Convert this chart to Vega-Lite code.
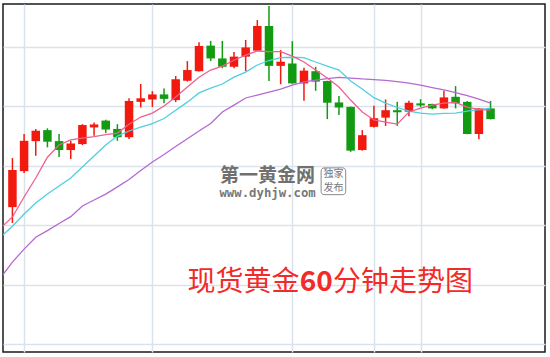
{
  "$schema": "https://vega.github.io/schema/vega-lite/v6.json",
  "width": 542,
  "height": 348,
  "autosize": {"type": "none"},
  "padding": {"left": 3, "top": 4, "right": 5, "bottom": 5},
  "background": "white",
  "config": {
    "view": {"stroke": "#1a1a1a", "strokeWidth": 1.5},
    "axis": {"labels": false, "ticks": false, "domain": false, "grid": true, "gridColor": "#dae3ec", "gridWidth": 1.5}
  },
  "datasets": {
    "candles": [
      {"i": 1, "open": 1255.61, "high": 1257.26, "low": 1255.08, "close": 1256.86},
      {"i": 2, "open": 1256.82, "high": 1258.07, "low": 1256.76, "close": 1257.84},
      {"i": 3, "open": 1257.83, "high": 1258.24, "low": 1257.34, "close": 1258.18},
      {"i": 4, "open": 1258.20, "high": 1258.26, "low": 1257.62, "close": 1257.81},
      {"i": 5, "open": 1257.83, "high": 1258.07, "low": 1257.30, "close": 1257.53},
      {"i": 6, "open": 1257.53, "high": 1257.84, "low": 1257.23, "close": 1257.75},
      {"i": 7, "open": 1257.73, "high": 1258.40, "low": 1257.70, "close": 1258.37},
      {"i": 8, "open": 1258.29, "high": 1258.46, "low": 1258.01, "close": 1258.39},
      {"i": 9, "open": 1258.52, "high": 1258.55, "low": 1258.10, "close": 1258.22},
      {"i": 10, "open": 1258.24, "high": 1258.40, "low": 1257.84, "close": 1257.96},
      {"i": 11, "open": 1257.96, "high": 1259.27, "low": 1257.90, "close": 1259.18},
      {"i": 12, "open": 1259.15, "high": 1259.75, "low": 1258.96, "close": 1259.27},
      {"i": 13, "open": 1259.23, "high": 1259.51, "low": 1258.98, "close": 1259.40},
      {"i": 14, "open": 1259.40, "high": 1259.60, "low": 1259.10, "close": 1259.25},
      {"i": 15, "open": 1259.21, "high": 1260.02, "low": 1259.14, "close": 1259.91},
      {"i": 16, "open": 1259.86, "high": 1260.52, "low": 1259.83, "close": 1260.22},
      {"i": 17, "open": 1260.18, "high": 1261.15, "low": 1260.17, "close": 1261.03},
      {"i": 18, "open": 1261.04, "high": 1261.20, "low": 1260.52, "close": 1260.61},
      {"i": 19, "open": 1260.61, "high": 1261.20, "low": 1260.28, "close": 1260.33},
      {"i": 20, "open": 1260.33, "high": 1260.83, "low": 1260.28, "close": 1260.67},
      {"i": 21, "open": 1260.67, "high": 1261.23, "low": 1260.18, "close": 1260.98},
      {"i": 22, "open": 1260.87, "high": 1261.90, "low": 1260.86, "close": 1261.70},
      {"i": 23, "open": 1261.70, "high": 1262.37, "low": 1259.85, "close": 1260.36},
      {"i": 24, "open": 1260.36, "high": 1260.89, "low": 1259.74, "close": 1260.50},
      {"i": 25, "open": 1260.44, "high": 1261.19, "low": 1259.76, "close": 1259.77},
      {"i": 26, "open": 1259.77, "high": 1260.30, "low": 1259.19, "close": 1260.20},
      {"i": 27, "open": 1260.18, "high": 1260.33, "low": 1259.52, "close": 1259.83},
      {"i": 28, "open": 1259.85, "high": 1259.86, "low": 1258.57, "close": 1259.12},
      {"i": 29, "open": 1259.13, "high": 1259.35, "low": 1258.71, "close": 1258.96},
      {"i": 30, "open": 1258.98, "high": 1258.99, "low": 1257.47, "close": 1257.51},
      {"i": 31, "open": 1257.53, "high": 1258.20, "low": 1257.51, "close": 1258.03},
      {"i": 32, "open": 1258.31, "high": 1259.02, "low": 1258.29, "close": 1258.60},
      {"i": 33, "open": 1258.62, "high": 1259.23, "low": 1258.34, "close": 1258.87},
      {"i": 34, "open": 1258.87, "high": 1259.15, "low": 1258.34, "close": 1258.80},
      {"i": 35, "open": 1258.82, "high": 1259.19, "low": 1258.67, "close": 1259.12},
      {"i": 36, "open": 1259.10, "high": 1259.24, "low": 1258.98, "close": 1259.03},
      {"i": 37, "open": 1259.08, "high": 1259.09, "low": 1258.90, "close": 1258.93},
      {"i": 38, "open": 1258.93, "high": 1259.52, "low": 1258.92, "close": 1259.30},
      {"i": 39, "open": 1259.32, "high": 1259.68, "low": 1258.93, "close": 1259.10},
      {"i": 40, "open": 1259.15, "high": 1259.18, "low": 1258.06, "close": 1258.07},
      {"i": 41, "open": 1258.07, "high": 1258.93, "low": 1257.89, "close": 1258.93},
      {"i": 42, "open": 1258.93, "high": 1259.18, "low": 1258.56, "close": 1258.57}
    ],
    "ma": [
      {"i": 0, "a": 1254.91, "b": 1254.61, "c": 1253.24},
      {"i": 1, "a": 1255.28, "b": 1254.97, "c": 1253.76},
      {"i": 2, "a": 1255.95, "b": 1255.38, "c": 1254.20},
      {"i": 3, "a": 1256.59, "b": 1255.75, "c": 1254.60},
      {"i": 4, "a": 1257.29, "b": 1256.05, "c": 1254.82},
      {"i": 5, "a": 1257.70, "b": 1256.32, "c": 1255.06},
      {"i": 6, "a": 1257.87, "b": 1256.59, "c": 1255.29},
      {"i": 7, "a": 1257.93, "b": 1256.96, "c": 1255.65},
      {"i": 8, "a": 1257.98, "b": 1257.33, "c": 1255.85},
      {"i": 9, "a": 1258.05, "b": 1257.70, "c": 1256.05},
      {"i": 10, "a": 1258.10, "b": 1258.00, "c": 1256.29},
      {"i": 11, "a": 1258.40, "b": 1258.17, "c": 1256.54},
      {"i": 12, "a": 1258.64, "b": 1258.30, "c": 1256.84},
      {"i": 13, "a": 1258.77, "b": 1258.42, "c": 1257.13},
      {"i": 14, "a": 1259.01, "b": 1258.59, "c": 1257.38},
      {"i": 15, "a": 1259.31, "b": 1258.87, "c": 1257.65},
      {"i": 16, "a": 1259.65, "b": 1259.14, "c": 1257.91},
      {"i": 17, "a": 1259.98, "b": 1259.45, "c": 1258.17},
      {"i": 18, "a": 1260.22, "b": 1259.61, "c": 1258.42},
      {"i": 19, "a": 1260.35, "b": 1259.75, "c": 1258.81},
      {"i": 20, "a": 1260.55, "b": 1259.98, "c": 1259.04},
      {"i": 21, "a": 1260.72, "b": 1260.15, "c": 1259.28},
      {"i": 22, "a": 1260.86, "b": 1260.39, "c": 1259.38},
      {"i": 23, "a": 1260.84, "b": 1260.54, "c": 1259.48},
      {"i": 24, "a": 1260.84, "b": 1260.64, "c": 1259.58},
      {"i": 25, "a": 1260.69, "b": 1260.65, "c": 1259.71},
      {"i": 26, "a": 1260.49, "b": 1260.64, "c": 1259.82},
      {"i": 27, "a": 1260.22, "b": 1260.49, "c": 1259.88},
      {"i": 28, "a": 1259.95, "b": 1260.35, "c": 1259.93},
      {"i": 29, "a": 1259.65, "b": 1260.22, "c": 1259.97},
      {"i": 30, "a": 1259.21, "b": 1259.85, "c": 1259.95},
      {"i": 31, "a": 1258.81, "b": 1259.58, "c": 1259.92},
      {"i": 32, "a": 1258.54, "b": 1259.29, "c": 1259.90},
      {"i": 33, "a": 1258.47, "b": 1259.11, "c": 1259.87},
      {"i": 34, "a": 1258.40, "b": 1258.96, "c": 1259.83},
      {"i": 35, "a": 1258.81, "b": 1258.84, "c": 1259.78},
      {"i": 36, "a": 1258.94, "b": 1258.77, "c": 1259.71},
      {"i": 37, "a": 1259.04, "b": 1258.74, "c": 1259.63},
      {"i": 38, "a": 1259.11, "b": 1258.76, "c": 1259.55},
      {"i": 39, "a": 1259.13, "b": 1258.77, "c": 1259.46},
      {"i": 40, "a": 1258.97, "b": 1258.84, "c": 1259.36},
      {"i": 41, "a": 1258.89, "b": 1258.89, "c": 1259.24},
      {"i": 42, "a": 1258.87, "b": 1258.94, "c": 1259.11}
    ]
  },
  "layer": [
    {
      "data": {"name": "candles"},
      "mark": {"type": "rule", "strokeWidth": 1.5},
      "encoding": {
        "x": {"field": "i", "type": "quantitative", "title": null, "scale": {"domain": [0.62, 46.24], "nice": false, "zero": false}, "axis": {"values": [2, 13, 25, 32, 36], "title": null}},
        "y": {"field": "low", "type": "quantitative", "title": null, "scale": {"domain": [1250.74, 1262.44], "nice": false, "zero": false}, "axis": {"values": [1251, 1252, 1253, 1254, 1255, 1256, 1257, 1258, 1259, 1260, 1261, 1262], "title": null}},
        "y2": {"field": "high"},
        "color": {"condition": {"test": "datum.close >= datum.open", "value": "#f2190f"}, "value": "#139a13"}
      }
    },
    {
      "data": {"name": "candles"},
      "mark": {"type": "bar", "size": 8.5},
      "encoding": {
        "x": {"field": "i", "type": "quantitative", "title": null},
        "y": {"field": "open", "type": "quantitative", "title": null},
        "y2": {"field": "close"},
        "color": {"condition": {"test": "datum.close >= datum.open", "value": "#f2190f"}, "value": "#139a13"}
      }
    },
    {
      "data": {"name": "ma"},
      "mark": {"type": "line", "strokeWidth": 1.3, "color": "#b569d3", "clip": true},
      "encoding": {
        "x": {"field": "i", "type": "quantitative", "title": null},
        "y": {"field": "c", "type": "quantitative", "title": null}
      }
    },
    {
      "data": {"name": "ma"},
      "mark": {"type": "line", "strokeWidth": 1.3, "color": "#4fcfe0", "clip": true},
      "encoding": {
        "x": {"field": "i", "type": "quantitative", "title": null},
        "y": {"field": "b", "type": "quantitative", "title": null}
      }
    },
    {
      "data": {"name": "ma"},
      "mark": {"type": "line", "strokeWidth": 1.3, "color": "#f0608e", "clip": true},
      "encoding": {
        "x": {"field": "i", "type": "quantitative", "title": null},
        "y": {"field": "a", "type": "quantitative", "title": null}
      }
    },
    {
      "mark": {"type": "rule", "color": "#2ea82e", "strokeWidth": 1.5, "strokeDash": [2, 2.5]},
      "encoding": {"y": {"datum": 1258.57, "type": "quantitative"}}
    },
    {
      "data": {"values": [{"i": 22.88, "p": 1256.66, "t": "第一黄金网"}]},
      "mark": {"type": "text", "font": "Noto Sans CJK SC", "fontSize": 19, "fontWeight": "bold", "color": "#707070", "align": "center", "baseline": "middle"},
      "encoding": {"x": {"field": "i", "type": "quantitative"}, "y": {"field": "p", "type": "quantitative"}, "text": {"field": "t"}}
    },
    {
      "data": {"values": [{"i": 22.88, "p": 1256.07, "t": "www.dyhjw.com"}]},
      "mark": {"type": "text", "font": "DejaVu Sans Mono", "fontSize": 12.3, "fontWeight": "bold", "color": "#787878", "align": "center", "baseline": "middle"},
      "encoding": {"x": {"field": "i", "type": "quantitative"}, "y": {"field": "p", "type": "quantitative"}, "text": {"field": "t"}}
    },
    {
      "data": {"values": [{"i": 27.47, "i2": 29.58, "p": 1256.03, "p2": 1256.93}]},
      "mark": {"type": "rect", "fill": null, "stroke": "#8a8a8a", "strokeWidth": 1, "cornerRadius": 3},
      "encoding": {"x": {"field": "i", "type": "quantitative"}, "x2": {"field": "i2"}, "y": {"field": "p", "type": "quantitative"}, "y2": {"field": "p2"}}
    },
    {
      "data": {"values": [{"i": 28.54, "p": 1256.71, "t": "独家"}, {"i": 28.54, "p": 1256.24, "t": "发布"}]},
      "mark": {"type": "text", "font": "Noto Sans CJK SC", "fontSize": 10, "color": "#777777", "align": "center", "baseline": "middle"},
      "encoding": {"x": {"field": "i", "type": "quantitative"}, "y": {"field": "p", "type": "quantitative"}, "text": {"field": "t"}}
    },
    {
      "data": {"values": [{"i": 25.62, "p": 1253.06, "t": "现货黄金"}]},
      "mark": {"type": "text", "font": "Noto Sans CJK SC", "fontSize": 28, "color": "#f22a2a", "align": "right", "baseline": "middle"},
      "encoding": {"x": {"field": "i", "type": "quantitative"}, "y": {"field": "p", "type": "quantitative"}, "text": {"field": "t"}}
    },
    {
      "data": {"values": [{"i": 27.05, "p": 1253.06, "t": "60"}]},
      "mark": {"type": "text", "font": "Noto Sans CJK SC", "fontSize": 28, "fontWeight": "bold", "color": "#f22a2a", "align": "center", "baseline": "middle"},
      "encoding": {"x": {"field": "i", "type": "quantitative"}, "y": {"field": "p", "type": "quantitative"}, "text": {"field": "t"}}
    },
    {
      "data": {"values": [{"i": 28.48, "p": 1253.06, "t": "分钟走势图"}]},
      "mark": {"type": "text", "font": "Noto Sans CJK SC", "fontSize": 28, "color": "#f22a2a", "align": "left", "baseline": "middle"},
      "encoding": {"x": {"field": "i", "type": "quantitative"}, "y": {"field": "p", "type": "quantitative"}, "text": {"field": "t"}}
    }
  ]
}
